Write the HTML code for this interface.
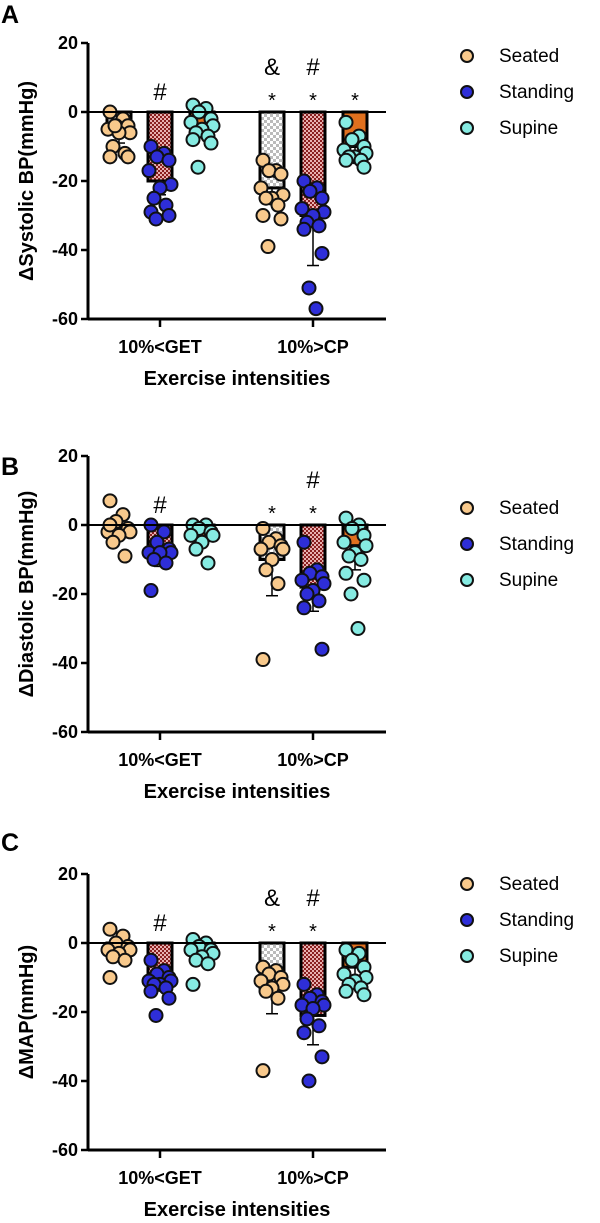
<!DOCTYPE html>
<html><head><meta charset="utf-8"><style>
body{margin:0;background:#fff;}
svg{display:block;font-family:"Liberation Sans",Arial,sans-serif;}
</style></head><body>
<svg id="chart" width="600" height="1223" viewBox="0 0 600 1223">
<defs>
<pattern id="pSeat" width="6" height="6" patternUnits="userSpaceOnUse"><rect width="6" height="6" fill="#fff"/><rect width="3" height="3" fill="#bbb"/><rect x="3" y="3" width="3" height="3" fill="#bbb"/></pattern>
<pattern id="pStand" width="4" height="4" patternUnits="userSpaceOnUse"><rect width="4" height="4" fill="#e8b0b0"/><rect width="2" height="2" fill="#8a1f1f"/><rect x="2" y="2" width="2" height="2" fill="#8a1f1f"/></pattern>
</defs>
</svg>
<script>
const groups = ["10%<GET","10%>CP"];
const seriesNames = ["Seated","Standing","Supine"];
const yTicks = [20,0,-20,-40,-60];
// panel A: systolic
const aMeans = [[-6,-20,-4],[-22,-30,-10]];
const aErr = [[-9,-24,-6],[-26,-44.5,-12]];
const aSeatGET = [0,-2,-4,-4,-5,-6,-6,-10,-12,-13,-13,-4];
const aStandGET = [-10,-12,-13,-14,-17,-21,-22,-25,-27,-29,-30,-31];
const aSupGET = [2,1,0,-2,-3,-4,-5,-6,-7,-8,-9,-16];
const aSeatCP = [-14,-17,-17,-18,-22,-24,-25,-25,-27,-30,-31,-39];
const aStandCP = [-20,-22,-23,-25,-28,-29,-30,-32,-33,-34,-41,-51,-57];
const aSupCP = [-3,-7,-8,-10,-11,-12,-13,-13,-14,-14,-16];
// panel B: diastolic
const bMeans = [[-1,-7,-4],[-10,-18,-6]];
const bErr = [[-3,-12,-6],[-20.5,-25,-13]];
const bSeatGET = [7,3,1,-1,-2,-2,-3,-5,-9,0];
const bStandGET = [0,-2,-5,-7,-8,-8,-8,-10,-11,-19];
const bSupGET = [0,0,-1,-2,-3,-3,-5,-7,-11];
const bSeatCP = [-1,-4,-5,-6,-7,-7,-10,-13,-17,-39];
const bStandCP = [-5,-13,-14,-15,-16,-17,-19,-20,-22,-24,-36];
const bSupCP = [2,0,-1,-3,-5,-6,-8,-9,-10,-14,-16,-20,-30];
// panel C: MAP
const cMeans = [[-2,-9,-3],[-13,-21,-7]];
const cErr = [[-4,-12,-5],[-20.5,-29.5,-10]];
const cSeatGET = [4,2,0,-1,-2,-2,-3,-4,-5,-10];
const cStandGET = [-5,-8,-9,-10,-11,-11,-12,-12,-13,-14,-16,-21];
const cSupGET = [1,0,-1,-2,-2,-3,-4,-5,-6,-12];
const cSeatCP = [-7,-8,-9,-10,-11,-12,-13,-14,-16,-37];
const cStandCP = [-12,-15,-16,-17,-18,-18,-19,-22,-24,-26,-33,-40];
const cSupCP = [-2,-3,-5,-7,-9,-10,-11,-12,-13,-14,-15];
const aMarks = [["","#",""],["& *","# *","*"]];
const bMarks = [["","#",""],["*","# *",""]];
const cMarks = [["","#",""],["& *","# *",""]];

const NS="http://www.w3.org/2000/svg";
const svg=document.getElementById('chart');
function mk(t,a,p){const e=document.createElementNS(NS,t);for(const k in a)e.setAttribute(k,a[k]);(p||svg).appendChild(e);return e;}
const dotFill=["#f8c98c","#2e2ed8","#86ebe2"];
const barFill=["url(#pSeat)","url(#pStand)","#e0701e"];
const jit=[-9,4,-3,9,-11,11,0,-6,6,-9,9,-4,3];

function panel(letter,top,zeroY,ylab,means,errs,pts,marks){
  const g=mk('g',{});
  
  
  const ax=88, axR=386, scale=69/20;
  const y=v=>zeroY-v*scale;
  const gx=[160,313];
  let t=mk('text',{x:1,y:top+23,'font-size':25,'font-weight':'bold'},g);t.textContent=letter;
  
  yTicks.forEach(v=>{
    mk('line',{x1:ax-7,x2:ax,y1:y(v),y2:y(v),stroke:'#000','stroke-width':2.5},g);
    const tt=mk('text',{x:ax-10,y:y(v)+6,'font-size':18,'font-weight':'bold','text-anchor':'end'},g);tt.textContent=v;
    
  });
  const yl=mk('text',{transform:`translate(33,${(y(20)+y(-60))/2}) rotate(-90)`,'font-size':20,'font-weight':'bold','text-anchor':'middle'},g);yl.textContent=ylab;
  
  const offs=[-41,0,42];
  groups.forEach((gn,gi)=>{
    offs.forEach((o,si)=>{
      const cx=gx[gi]+o, m=means[gi][si], e=errs[gi][si];
      mk('line',{x1:cx,x2:cx,y1:y(m),y2:y(e),stroke:'#000','stroke-width':1.5},g);
      mk('line',{x1:cx-6,x2:cx+6,y1:y(e),y2:y(e),stroke:'#000','stroke-width':1.5},g);
      const b=mk('rect',{x:cx-12,y:y(0),width:24,height:Math.max(0,y(m)-y(0)),fill:barFill[si],stroke:'#000','stroke-width':3},g);
      
      
      const arr=pts[gi][si];
      arr.forEach((v,i)=>{
        const c=mk('circle',{cx:cx+jit[i%jit.length],cy:y(v),r:6.5,fill:dotFill[si],stroke:'#111','stroke-width':2},g);
        
        
      });
      const mk2=marks[gi][si].split(' ').filter(s=>s);
      mk2.reverse().forEach((s,k)=>{
        const isStar=s==='*';
        const tx=mk('text',{x:cx,y:y(0)-(isStar?-1:12)-k*25+(isStar?-6:0),'font-size':isStar?20:24,'text-anchor':'middle'},g);tx.textContent=s;
        
      });
    });
    mk('line',{x1:gx[gi],x2:gx[gi],y1:y(-60),y2:y(-60)+8,stroke:'#000','stroke-width':2.5},g);
    const xl=mk('text',{x:gx[gi],y:y(-60)+34,'font-size':18,'font-weight':'bold','text-anchor':'middle'},g);xl.textContent=gn;
    
  });
  mk('line',{x1:ax,x2:ax,y1:y(20),y2:y(-60)+1,stroke:'#000','stroke-width':3},g);
  mk('line',{x1:ax,x2:axR,y1:y(-60),y2:y(-60),stroke:'#000','stroke-width':3},g);
  mk('line',{x1:ax,x2:axR,y1:y(0),y2:y(0),stroke:'#000','stroke-width':2},g);
  const xt=mk('text',{x:237,y:y(-60)+66,'font-size':20,'font-weight':'bold','text-anchor':'middle'},g);xt.textContent='Exercise intensities';
  
  seriesNames.forEach((n,i)=>{
    const ly=top+62+i*36;
    const c=mk('circle',{cx:467,cy:ly-6,r:6,fill:dotFill[i],stroke:'#111','stroke-width':2},g);
    
    const lt=mk('text',{x:499,y:ly,'font-size':19},g);lt.textContent=n;
    
  });
}
panel('A',0,112,'ΔSystolic BP(mmHg)',aMeans,aErr,[[aSeatGET,aStandGET,aSupGET],[aSeatCP,aStandCP,aSupCP]],aMarks);
panel('B',452,525,'ΔDiastolic BP(mmHg)',bMeans,bErr,[[bSeatGET,bStandGET,bSupGET],[bSeatCP,bStandCP,bSupCP]],bMarks);
panel('C',828,943,'ΔMAP(mmHg)',cMeans,cErr,[[cSeatGET,cStandGET,cSupGET],[cSeatCP,cStandCP,cSupCP]],cMarks);
</script>
</body></html>
